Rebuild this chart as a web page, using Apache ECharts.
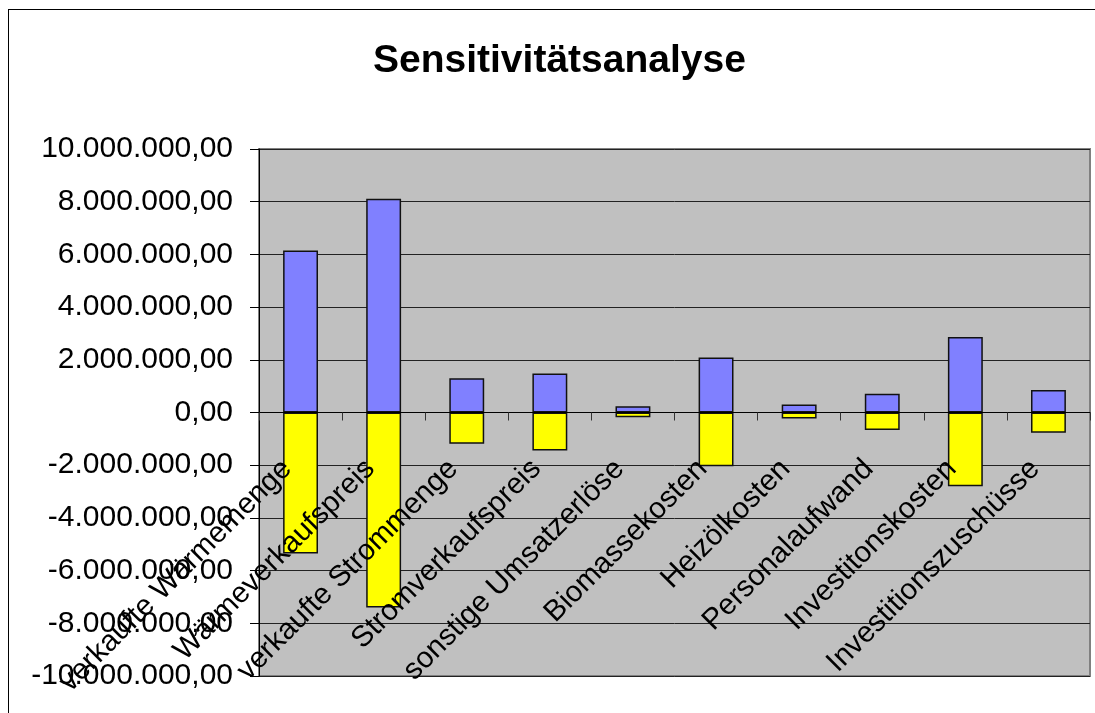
<!DOCTYPE html>
<html>
<head>
<meta charset="utf-8">
<script src="https://cdn.jsdelivr.net/npm/echarts@6/dist/echarts.min.js"></script>
<style>
    html, body { margin: 0; padding: 0; background: #fff; overflow: hidden; }
    #frame { position: absolute; left: 8px; top: 9px; width: 1200px; height: 800px; border: 1px solid #000; }
    #chart { position: absolute; left: 0; top: 0; width: 1095px; height: 713px; }
</style>
</head>
<body>
<div id="frame"></div>
<div id="chart"></div>
<script>
    // Kategorien der Sensitivitätsanalyse
    var categories = ['verkaufte Wärmemenge', 'Wärmeverkaufspreis', 'verkaufte Strommenge', 'Stromverkaufspreis',
        'sonstige Umsatzerlöse', 'Biomassekosten', 'Heizölkosten', 'Personalaufwand', 'Investitonskosten',
        'Investitionszuschüsse'];
    // positive Abweichung (blau)
    var upValues = [6150000, 8110000, 1300000, 1480000, 240000, 2090000, 300000, 710000, 2870000, 850000];
    // negative Abweichung (gelb)
    var downValues = [-5350000, -7400000, -1190000, -1440000, -180000, -2040000, -230000, -660000, -2800000, -770000];
    var yTicks = { min: -10000000, max: 10000000, interval: 2000000 };

    function formatDe(v) {
        var neg = v < 0;
        var s = String(Math.abs(Math.round(v)));
        var out = '';
        while (s.length > 3) {
            out = '.' + s.slice(-3) + out;
            s = s.slice(0, -3);
        }
        return (neg ? '-' : '') + s + out + ',00';
    }

    var font = '"Liberation Sans", Arial, sans-serif';
    var chart = echarts.init(document.getElementById('chart'));

    var option = {
        animation: false,
        title: {
            text: 'Sensitivitätsanalyse',
            left: 368,
            top: 37,
            textStyle: { fontFamily: font, fontSize: 39, fontWeight: 'bold', color: '#000' }
        },
        grid: {
            left: 259,
            right: 5,
            top: 149,
            bottom: 37,
            containLabel: false,
            outerBoundsMode: 'none',
            show: true,
            backgroundColor: '#c0c0c0',
            borderColor: '#808080',
            borderWidth: 2
        },
        xAxis: {
            type: 'category',
            data: categories,
            z: 5,
            axisLine: { onZero: true, lineStyle: { color: '#000', width: 1 } },
            axisTick: { show: true, length: 8, lineStyle: { color: '#333' } },
            axisLabel: {
                interval: 0,
                rotate: 45,
                margin: -225,
                padding: [0, 19, 0, 0],
                color: '#000',
                fontFamily: font,
                fontSize: 29.5
            }
        },
        yAxis: {
            type: 'value',
            min: yTicks.min,
            max: yTicks.max,
            interval: yTicks.interval,
            axisLine: { show: true, lineStyle: { color: '#000' } },
            axisTick: { show: true, length: 9, lineStyle: { color: '#000' } },
            axisLabel: {
                margin: 26,
                color: '#000',
                fontFamily: font,
                fontSize: 30,
                formatter: formatDe
            },
            splitLine: { show: true, lineStyle: { color: '#222', width: 1 } }
        },
        series: [{
            name: 'plus',
            type: 'bar',
            stack: 'sens',
            barWidth: '42%',
            data: upValues,
            itemStyle: { color: '#8080ff', borderColor: '#111', borderWidth: 1.5 }
        }, {
            name: 'minus',
            type: 'bar',
            stack: 'sens',
            barWidth: '42%',
            data: downValues,
            itemStyle: { color: '#ffff00', borderColor: '#111', borderWidth: 1.5 }
        }]
    };

    chart.setOption(option);
</script>
</body>
</html>
